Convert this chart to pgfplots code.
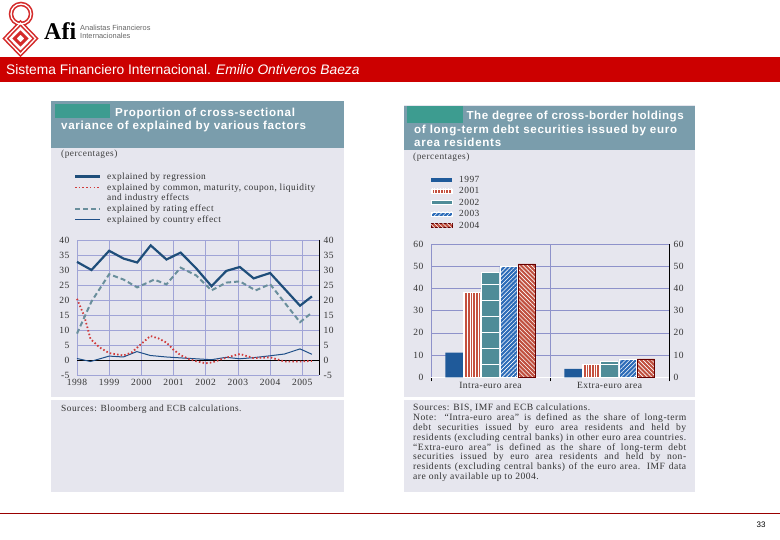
\documentclass[border=0pt]{standalone}
\usepackage{pgfplots}
\pgfplotsset{compat=1.18}
\usepackage{fontspec}
\usetikzlibrary{patterns.meta}
\setmainfont{Liberation Serif}
\newfontfamily\hdfont{Liberation Sans}
\newfontfamily\ttlfont{Liberation Sans}[LetterSpace=6]
\newfontfamily\ttlfontb{Liberation Sans}[LetterSpace=4]
\newfontfamily\srcfont{Liberation Serif}[LetterSpace=5]
\newcommand\tickf{\fontsize{9.5}{11}\srcfont}
\newcommand\txtf{\fontsize{9.4}{10}\srcfont}
\newcommand\ttlf{\fontsize{11.6}{13}\ttlfont\bfseries}

\definecolor{afired}{HTML}{CC0000}
\definecolor{logored}{HTML}{D42A2A}
\definecolor{panel}{HTML}{E6E6EE}
\definecolor{ttlbar}{HTML}{7A9DAC}
\definecolor{tealbox}{HTML}{3D9C90}
\definecolor{gridA}{HTML}{A0A4D6}
\definecolor{gridB}{HTML}{8E92CA}
\definecolor{regc}{HTML}{1F4E7A}
\definecolor{ratc}{HTML}{6A8F9C}
\definecolor{comc}{HTML}{D03B3B}
\definecolor{couc}{HTML}{1F4F88}
\definecolor{c97}{HTML}{1F5A9A}
\definecolor{c01}{HTML}{C4503F}
\definecolor{c02}{HTML}{4F8C98}
\definecolor{c03}{HTML}{2C6BB8}
\definecolor{c04}{HTML}{C0503F}

\tikzset{
  reg/.style={regc, line width=2.2pt},
  rat/.style={ratc, line width=2pt, dash pattern=on 5pt off 3pt},
  com/.style={comc, line width=1.8pt, dash pattern=on 1.5pt off 2.2pt},
  cou/.style={couc, line width=1pt},
  b97/.style={fill=c97, draw=none},
  b01/.style={fill=c01, draw=white, line width=0.4pt,
    postaction={pattern={Lines[angle=90,distance=2.7pt,line width=0.6pt]}, pattern color=white}},
  b02/.style={fill=c02, draw=white, line width=0.6pt,
    postaction={pattern={Lines[angle=0,distance=16pt,line width=0.6pt]}, pattern color=white}},
  b03/.style={fill=c03, draw=white, line width=0.6pt,
    postaction={pattern={Lines[angle=45,distance=3pt,line width=0.6pt]}, pattern color=white}},
  b04/.style={fill=c04, draw=black!60!red, line width=0.6pt,
    postaction={pattern={Lines[angle=-45,distance=3pt,line width=0.6pt]}, pattern color=white}},
}

\begin{document}
\begin{tikzpicture}[x=1pt,y=1pt]
\useasboundingbox (0,0) rectangle (780,540);
\fill[white] (0,0) rectangle (780,540);

% logo
\draw[logored, line width=4.5pt] (21,526) circle (10);
\draw[logored, line width=4.5pt] (20.5,517) -- (35.5,501.5) -- (20.5,486) -- (5.5,501.5) -- cycle;
\draw[logored, line width=3pt] (20.5,507.5) -- (26.5,501.5) -- (20.5,495.5) -- (14.5,501.5) -- cycle;
\draw[white, line width=1.3pt] (21,526) circle (10);
\draw[white, line width=1.3pt] (20.5,517) -- (35.5,501.5) -- (20.5,486) -- (5.5,501.5) -- cycle;
\node[anchor=base west, inner sep=0, font=\fontsize{24}{24}\selectfont\bfseries] at (44,500) {Afi};
\node[anchor=base west, inner sep=0, text=black!60, font=\fontsize{7.4}{8}\hdfont] at (80,509) {Analistas Financieros};
\node[anchor=base west, inner sep=0, text=black!60, font=\fontsize{7.4}{8}\hdfont] at (80,501) {Internacionales};

% header band
\fill[afired] (0,458.3) rectangle (780,482.7);
\node[anchor=base west, inner sep=0, text=white, font=\fontsize{13.8}{15}\hdfont] at (6,465.5)
  {Sistema Financiero Internacional. \textit{Emilio Ontiveros Baeza}};

% footer
\draw[red!60!black, line width=1.2pt] (0,26.7) -- (780,26.7);
\node[inner sep=0, font=\fontsize{8}{9}\hdfont] at (761,15) {33};

% left panel
\fill[panel] (51,48) rectangle (344,439);
\fill[white] (51,140) rectangle (344,143);
\fill[ttlbar] (51,392) rectangle (344,439);
\fill[tealbox] (55,422) rectangle (110,436);
\node[anchor=base west, inner sep=0, text=white, font=\ttlf] at (115,423.3) {Proportion of cross-sectional};
\node[anchor=base west, inner sep=0, text=white, font=\ttlf] at (61,410) {variance of explained by various factors};
\node[anchor=base west, inner sep=0, text=black!75, font=\txtf] at (61,383) {(percentages)};
\draw[reg] (75,363.5) -- (100,363.5);
\draw[com] (75,352.5) -- (100,352.5);
\draw[rat] (75,331) -- (100,331);
\draw[cou] (75,320) -- (100,320);
\node[anchor=base west, inner sep=0, text=black!80, font=\txtf] at (107,360.5) {explained by regression};
\node[anchor=base west, inner sep=0, text=black!80, font=\txtf] at (107,349.5) {explained by common, maturity, coupon, liquidity};
\node[anchor=base west, inner sep=0, text=black!80, font=\txtf] at (107,339.5) {and industry effects};
\node[anchor=base west, inner sep=0, text=black!80, font=\txtf] at (107,328) {explained by rating effect};
\node[anchor=base west, inner sep=0, text=black!80, font=\txtf] at (107,317) {explained by country effect};
\node[anchor=base west, inner sep=0, text=black!80, font=\txtf] at (61,128.3) {Sources: Bloomberg and ECB calculations.};

\begin{axis}[
  at={(77pt,165pt)}, anchor=south west,
  scale only axis, width=242pt, height=135pt,
  xmin=1998, xmax=2005.52, ymin=-5, ymax=40,
  xtick={1998,...,2005}, ytick={-5,0,...,40},
  axis line style={draw=none},
  major tick length=0pt,
  grid=major, major grid style={gridA, line width=0.7pt},
  extra y ticks={0}, extra y tick labels={},
  extra y tick style={grid=major, major grid style={black, line width=0.9pt}},
  tick label style={font=\tickf, text=black!80},
  /pgf/number format/assume math mode=true,
  xticklabel style={/pgf/number format/1000 sep={}, yshift=-1pt},
  yticklabel style={xshift=-4pt},
  clip=false,
]
\addplot[cou] coordinates {(1998.0,0.5) (1998.42,-0.5) (1999.0,1.3) (1999.44,1.0) (1999.86,2.8)
  (2000.28,1.5) (2000.78,1.0) (2001.22,0.7) (2001.7,0.4) (2002.18,0.1) (2002.64,0.9)
  (2003.06,0.4) (2003.5,0.8) (2004.0,1.4) (2004.45,2.0) (2004.93,3.7) (2005.3,1.9)};
\addplot[com] coordinates {(1998.0,20.4) (1998.23,14.5) (1998.42,7.0) (1998.7,4.2) (1999.0,2.3)
  (1999.44,1.5) (1999.7,2.5) (1999.99,5.3) (2000.28,8.0) (2000.53,7.2) (2000.78,5.8)
  (2001.0,3.4) (2001.22,1.6) (2001.48,0.3) (2001.7,-0.4) (2002.0,-1.1) (2002.2,-0.8)
  (2002.64,0.8) (2003.06,2.0) (2003.5,0.6) (2004.0,0.9) (2004.45,-0.5) (2004.93,-0.5) (2005.3,-0.3)};
\addplot[rat] coordinates {(1998.0,8.8) (1998.45,19.5) (1999.0,28.6) (1999.45,26.8) (1999.87,24.2)
  (2000.4,26.8) (2000.78,25.2) (2001.22,30.8) (2001.7,28.2) (2002.18,23.2) (2002.64,25.8)
  (2003.06,26.2) (2003.55,23.2) (2004.0,25.3) (2004.93,12.6) (2005.3,15.8)};
\addplot[reg] coordinates {(1998.0,32.7) (1998.45,30.0) (1999.0,36.4) (1999.45,33.8) (1999.87,32.5)
  (2000.29,38.2) (2000.78,33.5) (2001.22,35.8) (2001.7,30.6) (2002.18,24.6) (2002.64,29.7)
  (2003.06,31.0) (2003.49,27.2) (2004.0,29.0) (2004.93,18.1) (2005.3,21.2)};
\end{axis}
\begin{axis}[
  at={(77pt,165pt)}, anchor=south west,
  scale only axis, width=242pt, height=135pt,
  xmin=1998, xmax=2005.52, ymin=-5, ymax=40,
  axis x line=none, axis y line*=right,
  ytick={-5,0,...,40}, major tick length=0pt,
  y axis line style={black, line width=0.9pt},
  tick label style={font=\tickf, text=black!80},
  /pgf/number format/assume math mode=true,
  yticklabel style={xshift=1pt},
]
\end{axis}

% right panel
\fill[panel] (404,48) rectangle (695,435);
\fill[white] (404,140) rectangle (695,143);
\fill[ttlbar] (404,390) rectangle (695,434);
\fill[tealbox] (407,417) rectangle (463,434);
\node[anchor=base west, inner sep=0, text=white, font=\fontsize{11.6}{13}\ttlfontb\bfseries] at (466.5,420.7) {\makebox[217pt][s]{The degree of cross-border holdings}};
\node[anchor=base west, inner sep=0, text=white, font=\ttlf] at (414,406.7) {\makebox[263pt][s]{of long-term debt securities issued by euro}};
\node[anchor=base west, inner sep=0, text=white, font=\ttlf] at (414,393.3) {area residents};
\node[anchor=base west, inner sep=0, text=black!75, font=\txtf] at (413,380.7) {(percentages)};
\fill[b97] (431,358) rectangle (452,362);
\fill[b01] (431,347) rectangle (452,351);
\fill[b02] (431,335.5) rectangle (452,339.5);
\fill[b03] (431,324) rectangle (452,328);
\fill[b04] (431,312.5) rectangle (452,316.5);
\node[anchor=base west, inner sep=0, text=black!80, font=\txtf] at (459,357) {1997};
\node[anchor=base west, inner sep=0, text=black!80, font=\txtf] at (459,346) {2001};
\node[anchor=base west, inner sep=0, text=black!80, font=\txtf] at (459,334.5) {2002};
\node[anchor=base west, inner sep=0, text=black!80, font=\txtf] at (459,323) {2003};
\node[anchor=base west, inner sep=0, text=black!80, font=\txtf] at (459,311.5) {2004};
\node[anchor=north west, inner sep=0, text width=273pt, align=justify, text=black!80,
  font=\fontsize{9.6}{9.8}\srcfont] at (413,136)
  {Sources: BIS, IMF and ECB calculations.\\
  Note: “Intra-euro area” is defined as the share of long-term \linebreak
  debt securities issued by euro area residents and held by \linebreak
  residents (excluding central banks) in other euro area countries. \linebreak
  “Extra-euro area” is defined as the share of long-term debt \linebreak
  securities issued by euro area residents and held by non-\linebreak
  residents (excluding central banks) of the euro area. IMF data \linebreak
  are only available up to 2004.};

\begin{axis}[
  at={(431pt,162.7pt)}, anchor=south west,
  scale only axis, width=238pt, height=133.3pt,
  ybar=0.6pt, bar width=17.6pt,
  xmin=-0.5, xmax=1.5, ymin=0, ymax=60,
  xtick={0,1}, xticklabels={Intra-euro area,Extra-euro area},
  ytick={0,10,...,60},
  separate axis lines,
  x axis line style={draw=none},
  y axis line style={black, line width=0.9pt},
  major tick length=0pt, xtick pos=bottom, ytick pos=left,
  ymajorgrids, major grid style={gridB, line width=0.7pt},
  extra x ticks={-0.5,0.5,1.5}, extra x tick labels={},
  extra x tick style={grid=major, major tick length=4pt, tick align=outside,
    tick style={black, line width=0.8pt}},
  extra y ticks={0}, extra y tick labels={},
  extra y tick style={grid=major, major grid style={white, line width=1.2pt}},
  tick label style={font=\tickf, text=black!80},
  /pgf/number format/assume math mode=true,
  xticklabel style={yshift=-1pt},
  yticklabel style={xshift=-4pt},
]
\addplot[b97] coordinates {(0,11.1) (1,3.8)};
\addplot[b01] coordinates {(0,38.1) (1,5.7)};
\addplot[b02] coordinates {(0,47.1) (1,7.0)};
\addplot[b03] coordinates {(0,49.8) (1,8.1)};
\addplot[b04] coordinates {(0,51.0) (1,8.3)};
\end{axis}
\begin{axis}[
  at={(431pt,162.7pt)}, anchor=south west,
  scale only axis, width=238pt, height=133.3pt,
  xmin=-0.5, xmax=1.5, ymin=0, ymax=60,
  axis x line=none, axis y line*=right,
  ytick={0,10,...,60}, major tick length=0pt,
  y axis line style={black, line width=0.9pt},
  tick label style={font=\tickf, text=black!80},
  /pgf/number format/assume math mode=true,
  yticklabel style={xshift=1pt},
]
\end{axis}
\end{tikzpicture}
\end{document}
